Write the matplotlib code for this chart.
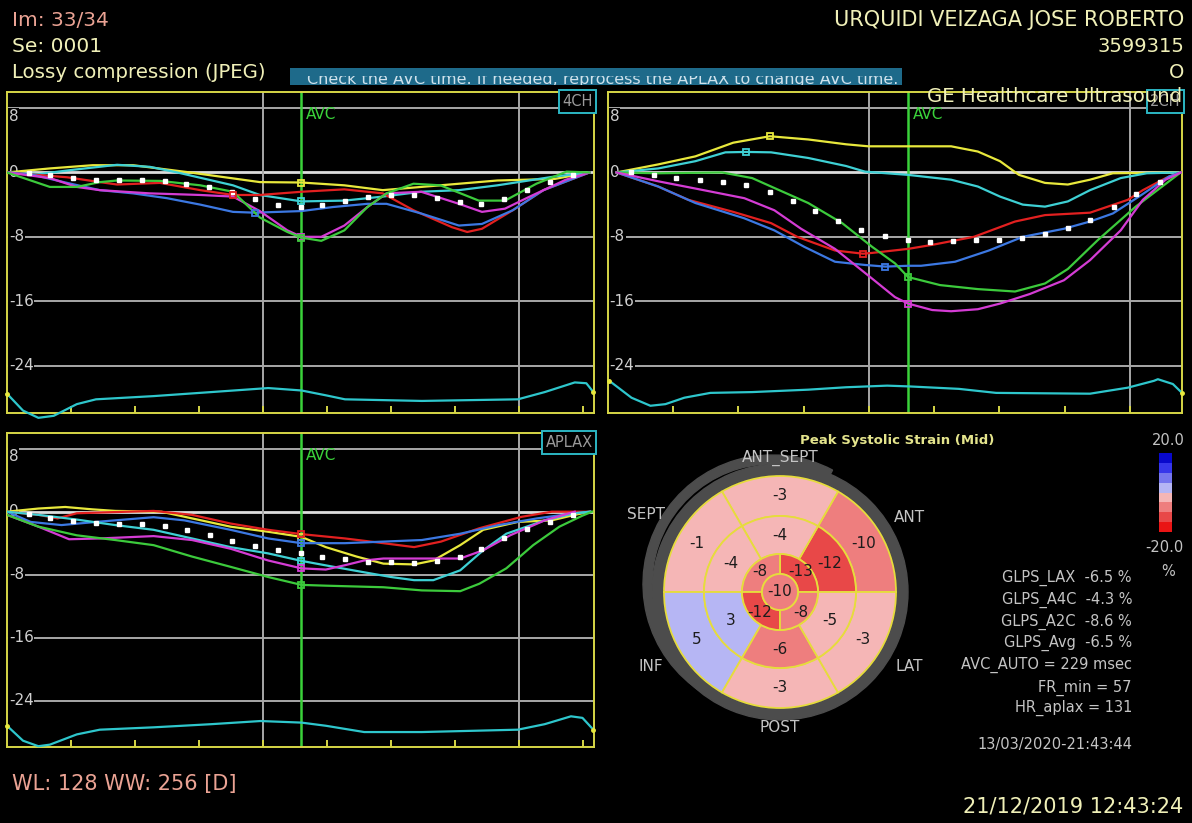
import numpy as np
import matplotlib
matplotlib.use("Agg")
import matplotlib.pyplot as plt
from matplotlib.patches import Wedge, Circle, Rectangle
from matplotlib.colors import ListedColormap, BoundaryNorm
from matplotlib.transforms import blended_transform_factory

plt.rcParams['font.family'] = ['DejaVu Sans']

W, H = 1192, 823

# ---------------- Apical 4-chamber: segmental longitudinal strain (%) vs frame ticks ----------------
a4c_yellow_t = [0.00, 0.67, 1.34, 1.97, 2.86, 3.95, 4.60, 5.27, 5.87, 6.47, 7.66, 8.56, 9.10]
a4c_yellow = [0.0, 0.5, 0.9, 0.9, 0.0, -1.2, -1.25, -1.6, -2.2, -1.8, -1.0, -0.8, 0.0]
a4c_cyan_t = [0.00, 0.50, 1.00, 1.72, 2.23, 2.66, 3.53, 3.95, 4.60, 5.27, 5.87, 6.47, 7.06, 7.66, 8.56, 9.10]
a4c_cyan = [0.0, -0.2, 0.3, 0.95, 0.7, 0.0, -1.6, -2.8, -3.6, -3.5, -3.0, -2.4, -2.2, -1.6, -0.5, 0.0]
a4c_red_t = [0.00, 0.94, 1.45, 1.72, 2.39, 3.02, 3.53, 3.95, 4.60, 5.27, 5.87, 6.35, 6.95, 7.19, 7.42, 7.90, 8.38, 9.10]
a4c_red = [0.0, -0.6, -1.2, -1.5, -1.3, -2.2, -2.8, -2.8, -2.4, -2.1, -2.6, -4.7, -6.8, -7.4, -7.0, -4.7, -2.2, 0.0]
a4c_blue_t = [0.00, 0.41, 0.94, 1.45, 1.97, 2.50, 3.02, 3.53, 3.87, 4.60, 5.09, 5.63, 5.93, 6.47, 7.06, 7.42, 7.90, 8.38, 9.10]
a4c_blue = [0.0, -0.3, -1.3, -2.2, -2.6, -3.2, -4.0, -4.9, -5.0, -4.8, -4.3, -3.9, -3.9, -5.1, -6.6, -6.4, -4.7, -2.2, 0.0]
a4c_magenta_t = [0.00, 0.67, 1.09, 1.45, 2.23, 3.02, 3.53, 3.95, 4.38, 4.60, 4.91, 5.27, 5.63, 5.93, 6.47, 7.06, 7.42, 7.78, 8.14, 8.73, 9.10]
a4c_magenta = [0.0, -0.7, -1.8, -2.2, -2.6, -2.8, -3.0, -4.8, -7.2, -8.0, -8.0, -6.6, -4.3, -2.6, -2.4, -3.9, -4.9, -4.5, -3.1, -0.9, 0.0]
a4c_green_t = [0.00, 0.67, 1.09, 1.45, 1.72, 2.39, 3.02, 3.53, 3.95, 4.38, 4.60, 4.91, 5.27, 5.63, 5.93, 6.35, 6.77, 7.37, 7.78, 8.27, 8.74, 9.10]
a4c_green = [0.0, -1.8, -1.8, -1.2, -1.0, -1.05, -1.6, -2.4, -5.6, -7.4, -8.1, -8.5, -7.2, -4.3, -2.6, -1.4, -1.6, -3.5, -3.5, -1.4, 0.1, 0.0]
a4c_avg_t = [0.34, 0.67, 1.03, 1.39, 1.75, 2.11, 2.47, 2.80, 3.16, 3.51, 3.87, 4.23, 4.60, 4.92, 5.28,
             5.64, 6.00, 6.36, 6.72, 7.08, 7.41, 7.77, 8.13, 8.49, 8.84]
a4c_avg = [-0.1, -0.3, -0.75, -0.9, -0.9, -0.9, -1.05, -1.4, -1.8, -2.4, -3.3, -4.0, -4.3, -4.1, -3.6,
           -3.05, -2.75, -2.75, -3.2, -3.7, -3.9, -3.25, -2.2, -1.2, -0.35]
a4c_ecg_t = [0.00, 0.25, 0.49, 0.73, 1.09, 1.39, 2.29, 3.19, 4.08, 4.60, 4.98, 5.28, 6.48, 7.98, 8.40, 8.87, 9.05, 9.16]
a4c_ecg = [-27.5, -29.6, -30.5, -30.25, -28.8, -28.2, -27.8, -27.3, -26.8, -27.1, -27.7, -28.2, -28.4, -28.2, -27.3, -26.1, -26.2, -27.3]

# ---------------- Apical 2-chamber ----------------
a2c_yellow_t = [0.13, 0.77, 1.34, 1.92, 2.48, 3.07, 3.65, 3.99, 4.60, 5.26, 5.67, 6.01, 6.30, 6.70, 7.05, 7.39, 7.74, 8.78]
a2c_yellow = [0.0, 1.0, 2.0, 3.7, 4.5, 4.1, 3.5, 3.25, 3.25, 3.25, 2.6, 1.4, -0.3, -1.3, -1.5, -0.9, -0.1, 0.0]
a2c_cyan_t = [0.13, 0.77, 1.34, 1.80, 2.12, 2.50, 3.07, 3.65, 3.94, 4.60, 5.26, 5.67, 6.01, 6.36, 6.70, 7.05, 7.39, 7.86, 8.26, 8.78]
a2c_cyan = [0.0, 0.5, 1.4, 2.5, 2.55, 2.5, 1.8, 0.8, 0.1, -0.3, -0.9, -1.75, -3.0, -4.0, -4.25, -3.6, -2.2, -0.7, -0.1, 0.0]
a2c_red_t = [0.13, 0.77, 1.23, 1.92, 2.50, 2.90, 3.48, 3.91, 4.05, 4.60, 4.97, 5.61, 6.24, 6.70, 7.39, 7.97, 8.20, 8.55, 8.78]
a2c_red = [0.0, -1.75, -3.4, -4.9, -6.3, -8.0, -9.7, -10.1, -10.0, -9.5, -9.0, -8.0, -6.1, -5.3, -5.0, -3.4, -2.2, -0.7, 0.0]
a2c_blue_t = [0.13, 0.77, 1.34, 2.09, 2.55, 3.01, 3.48, 3.94, 4.25, 4.60, 4.80, 5.32, 5.84, 6.36, 6.99, 7.39, 7.74, 8.14, 8.60, 8.78]
a2c_blue = [0.0, -1.75, -3.8, -5.7, -7.2, -9.25, -11.1, -11.5, -11.7, -11.6, -11.6, -11.1, -9.7, -8.0, -7.0, -6.1, -5.1, -3.0, -0.5, 0.0]
a2c_magenta_t = [0.13, 0.77, 1.34, 2.09, 2.55, 2.96, 3.48, 4.05, 4.40, 4.60, 4.97, 5.26, 5.67, 6.01, 6.47, 6.99, 7.39, 7.86, 8.20, 8.55, 8.78]
a2c_magenta = [0.0, -1.1, -2.0, -3.2, -4.7, -7.0, -9.5, -13.2, -15.5, -16.3, -17.1, -17.25, -17.0, -16.3, -15.1, -13.4, -10.9, -7.2, -3.4, -0.9, 0.0]
a2c_green_t = [0.13, 0.77, 1.75, 2.21, 2.50, 3.07, 3.59, 4.05, 4.40, 4.60, 5.09, 5.67, 6.24, 6.70, 7.05, 7.51, 8.09, 8.78]
a2c_green = [0.0, -0.1, 0.0, -0.7, -1.75, -3.8, -6.3, -9.25, -11.3, -13.0, -14.0, -14.5, -14.8, -13.8, -12.0, -8.4, -4.25, 0.0]
a2c_avg_t = [0.36, 0.71, 1.05, 1.41, 1.76, 2.12, 2.48, 2.83, 3.18, 3.53, 3.88, 4.24, 4.60, 4.93, 5.29,
             5.64, 6.00, 6.35, 6.70, 7.05, 7.39, 7.75, 8.10, 8.46]
a2c_avg = [0.0, -0.3, -0.7, -1.0, -1.15, -1.55, -2.45, -3.55, -4.8, -6.0, -7.1, -7.85, -8.35, -8.6, -8.5,
           -8.4, -8.4, -8.15, -7.7, -6.95, -5.9, -4.25, -2.65, -1.15]
a2c_ecg_t = [0.02, 0.36, 0.65, 0.88, 1.17, 1.57, 2.21, 3.07, 3.65, 4.28, 4.63, 5.38, 5.95, 7.39, 7.97, 8.37, 8.43, 8.66, 8.80]
a2c_ecg = [-25.9, -28.0, -29.0, -28.8, -28.0, -27.4, -27.3, -27.0, -26.7, -26.5, -26.6, -26.9, -27.4, -27.5, -26.75, -25.9, -25.7, -26.3, -27.4]

# ---------------- Apical long axis ----------------
lax_yellow_t = [0.00, 0.49, 0.91, 1.33, 1.69, 2.41, 2.89, 3.49, 4.08, 4.60, 4.98, 5.46, 5.88, 6.36, 6.66, 7.08, 7.44, 7.98, 8.51, 8.87, 9.11]
lax_yellow = [0.0, 0.4, 0.6, 0.3, 0.1, 0.0, -0.85, -1.9, -2.55, -3.2, -4.5, -5.7, -6.6, -6.7, -6.2, -4.25, -2.3, -1.3, -1.1, -0.4, 0.0]
lax_cyan_t = [0.00, 0.49, 1.09, 1.69, 2.29, 2.89, 3.49, 4.08, 4.60, 5.10, 5.58, 6.00, 6.36, 6.66, 7.08, 7.44, 7.80, 8.40, 8.87, 9.11]
lax_cyan = [0.0, -0.4, -1.0, -1.7, -2.3, -3.4, -4.5, -5.3, -6.25, -7.0, -7.7, -8.3, -8.7, -8.7, -7.45, -4.9, -2.8, -1.1, -0.2, 0.0]
lax_red_t = [0.00, 0.49, 0.79, 1.09, 2.29, 2.89, 3.49, 4.08, 4.60, 5.28, 5.88, 6.36, 6.78, 7.38, 8.04, 8.51, 9.11]
lax_red = [0.0, -0.4, -0.85, -0.2, 0.1, -0.4, -1.5, -2.3, -2.85, -3.4, -4.0, -4.5, -3.8, -2.1, -0.65, 0.0, 0.0]
lax_blue_t = [0.00, 0.37, 0.85, 1.39, 2.29, 2.77, 3.49, 4.08, 4.60, 5.28, 5.88, 6.48, 7.08, 7.68, 8.28, 8.87, 9.11]
lax_blue = [0.0, -1.3, -1.7, -1.3, -0.7, -1.1, -2.3, -3.4, -4.0, -4.0, -3.8, -3.6, -2.8, -1.7, -0.85, -0.2, 0.0]
lax_magenta_t = [0.00, 0.49, 0.97, 1.45, 2.29, 2.89, 3.49, 4.08, 4.60, 4.98, 5.28, 5.58, 5.88, 7.08, 7.44, 7.86, 8.40, 8.87]
lax_magenta = [-0.4, -1.9, -3.5, -3.4, -3.1, -3.6, -4.7, -6.2, -7.2, -7.35, -6.8, -6.2, -5.95, -5.95, -4.9, -3.0, -1.1, 0.0]
lax_green_t = [0.00, 0.49, 1.09, 1.69, 2.29, 2.89, 3.49, 4.08, 4.60, 4.98, 5.88, 6.48, 7.08, 7.38, 7.80, 8.22, 8.63, 8.99, 9.14]
lax_green = [-0.4, -1.9, -3.0, -3.6, -4.25, -5.7, -7.0, -8.3, -9.3, -9.4, -9.6, -10.0, -10.1, -9.15, -7.2, -4.25, -1.9, -0.5, 0.0]
lax_avg_t = [0.34, 0.67, 1.03, 1.39, 1.75, 2.11, 2.47, 2.81, 3.17, 3.51, 3.87, 4.23, 4.60, 4.92, 5.28,
             5.64, 6.00, 6.36, 6.72, 7.08, 7.41, 7.77, 8.13, 8.49, 8.84]
lax_avg = [-0.35, -0.85, -1.15, -1.4, -1.5, -1.5, -1.8, -2.35, -2.9, -3.75, -4.35, -4.9, -5.25, -5.75, -6.05,
           -6.4, -6.45, -6.5, -6.3, -5.75, -4.7, -3.4, -2.15, -1.3, -0.45]
lax_ecg_t = [0.00, 0.25, 0.49, 0.67, 1.09, 1.45, 2.29, 3.19, 3.96, 4.60, 4.98, 5.58, 6.48, 7.98, 8.40, 8.81, 8.99, 9.16]
lax_ecg = [-27.2, -29.1, -29.8, -29.6, -28.3, -27.7, -27.4, -27.0, -26.6, -26.8, -27.2, -28.0, -28.0, -27.7, -27.0, -26.0, -26.2, -27.7]

avc_time = 4.6
axis_ticks = [8, 0, -8, -16, -24]

# ---------------- Bull's eye: peak systolic strain per segment (%) ----------------
basal_angles = [30, 90, 150, 210, 270, 330]
basal_values = [-10, -3, -1, 5, -3, -3]
mid_values = [-12, -4, -4, 3, -6, -5]
apical_angles = [45, 135, 225, 315]
apical_values = [-13, -8, -12, -8]
apex_value = -10
wall_names = ['ANT', 'ANT_SEPT', 'SEPT', 'INF', 'POST', 'LAT']
wall_radii = [149, 134, 155, 149, 135, 149]

strain_levels = [-20, -15, -10, -5, 0, 5, 10, 15, 20]
strain_colors = ['#ea1414', '#e84848', '#ee7e7e', '#f5b6b6', '#b6b6f4', '#7676ee', '#3636ea', '#0808cc']

glps_names = ['GLPS_LAX', 'GLPS_A4C', 'GLPS_A2C', 'GLPS_Avg']
glps_values = [-6.5, -4.3, -8.6, -6.5]
avc_msec = 229
fr_min = 57
hr_aplax = 131

# ---------------- styling ----------------
FRAME = '#d6d646'
GRID = '#a8a8a8'
ZERO = '#dcdcdc'
AVC_GREEN = '#3ad23a'
LABEL = '#d0d0d0'
C_YEL = '#e8e83c'
C_CYAN = '#3ed0d4'
C_RED = '#e22020'
C_BLUE = '#3c78e2'
C_MAG = '#d43cd4'
C_GRN = '#3cca3c'
C_ECG = '#2ec6cc'
TXT_Y = '#f0f0b8'
TXT_SALMON = '#eba394'

fig = plt.figure(figsize=(W / 100, H / 100), dpi=100, facecolor='black')


def px_axes(x0, y0, x1, y1):
    return fig.add_axes([x0 / W, 1 - y1 / H, (x1 - x0) / W, (y1 - y0) / H])


def strain_panel(box, xmax, curves, avg_t, avg, ecg_t, ecg, tag):
    ax = px_axes(*box)
    ax.set_facecolor('black')
    ax.set_xlim(0, xmax)
    ax.set_ylim(-29.9, 10.0)
    for s in ax.spines.values():
        s.set_color(FRAME)
        s.set_linewidth(1.4)
    ax.set_xticks(np.arange(1, int(xmax) + 1))
    ax.set_yticks([])
    ax.tick_params(axis='x', direction='in', length=5, width=1.4, color=FRAME, labelbottom=False)
    for g in axis_ticks:
        if g == 0:
            ax.axhline(g, color=ZERO, lw=2.0, zorder=1)
        else:
            ax.axhline(g, color=GRID, lw=1.4, zorder=1)
    for g in (4, 8):
        ax.axvline(g, color=GRID, lw=1.4, zorder=1)
    ax.axvline(avc_time, color=AVC_GREEN, lw=1.8, zorder=2)
    tr = blended_transform_factory(ax.transAxes, ax.transData)
    for g in axis_ticks:
        yy = 7.0 if g == 8 else g
        ax.text(0.003, yy, f'{g}', transform=tr, ha='left', va='center', color=LABEL,
                fontsize=11, zorder=1.5,
                bbox=dict(facecolor='black', edgecolor='none', pad=0.6))
    ax.text(avc_time + 0.07, 7.2, 'AVC', color=AVC_GREEN, fontsize=11, ha='left', va='center', zorder=2)
    ax.text(0.998, 0.994, tag, transform=ax.transAxes, ha='right', va='top', color='#9a9a9a',
            fontsize=10.5, zorder=6,
            bbox=dict(facecolor='black', edgecolor='#2cb6c4', linewidth=1.4, boxstyle='square,pad=0.25'))
    for t, v, c in curves:
        t = np.asarray(t)
        v = np.asarray(v)
        ax.plot(t, v, color=c, lw=1.6, zorder=3, solid_joinstyle='round')
        sys_mask = t <= avc_time + 0.02
        k = int(np.argmax(np.abs(np.where(sys_mask, v, 0.0))))
        ax.plot(t[k], v[k], 's', ms=5, mfc='none', mec=c, mew=1.3, zorder=5)
    ax.plot(avg_t, avg, 's', color='white', ms=2.3, lw=0, zorder=4)
    ax.plot(ecg_t, ecg, color=C_ECG, lw=1.6, zorder=3, clip_on=False)
    ax.plot([ecg_t[0], ecg_t[-1]], [ecg[0], ecg[-1]], 'o', color=C_YEL, ms=2.5, zorder=4, clip_on=False)
    return ax


strain_panel((7, 92, 594, 413), 9.17,
             [(a4c_yellow_t, a4c_yellow, C_YEL), (a4c_cyan_t, a4c_cyan, C_CYAN),
              (a4c_red_t, a4c_red, C_RED), (a4c_blue_t, a4c_blue, C_BLUE),
              (a4c_magenta_t, a4c_magenta, C_MAG), (a4c_green_t, a4c_green, C_GRN)],
             a4c_avg_t, a4c_avg, a4c_ecg_t, a4c_ecg, '4CH')
strain_panel((608, 92, 1182, 413), 8.80,
             [(a2c_yellow_t, a2c_yellow, C_YEL), (a2c_cyan_t, a2c_cyan, C_CYAN),
              (a2c_red_t, a2c_red, C_RED), (a2c_blue_t, a2c_blue, C_BLUE),
              (a2c_green_t, a2c_green, C_GRN), (a2c_magenta_t, a2c_magenta, C_MAG)],
             a2c_avg_t, a2c_avg, a2c_ecg_t, a2c_ecg, '2CH')
strain_panel((7, 433, 594, 747), 9.17,
             [(lax_yellow_t, lax_yellow, C_YEL), (lax_red_t, lax_red, C_RED),
              (lax_blue_t, lax_blue, C_BLUE), (lax_cyan_t, lax_cyan, C_CYAN),
              (lax_magenta_t, lax_magenta, C_MAG), (lax_green_t, lax_green, C_GRN)],
             lax_avg_t, lax_avg, lax_ecg_t, lax_ecg, 'APLAX')

# ---------------- bull's eye ----------------
cmap = ListedColormap(strain_colors)
norm = BoundaryNorm(strain_levels, cmap.N)


def seg_color(v):
    # bin toward zero so that boundary values keep the milder colour
    i = np.searchsorted(strain_levels, v, side='left' if v > 0 else 'right') - 1
    return strain_colors[int(np.clip(i, 0, len(strain_colors) - 1))]


bx = px_axes(630, 442, 930, 742)
bx.set_xlim(-150, 150)
bx.set_ylim(-150, 150)
bx.set_aspect('equal')
bx.axis('off')
RING = '#4c4c4c'
bx.add_patch(Wedge((-8, 8), 129, 62, 238, width=9, color=RING, zorder=1))
bx.add_patch(Wedge((0, 0), 128, 0, 360, width=11, color=RING, zorder=1))
SEG_EDGE = '#e6dc3c'
R_BASE, R_MID, R_API, R_APEX = 116, 76, 38, 18
for a, v in zip(basal_angles, basal_values):
    bx.add_patch(Wedge((0, 0), R_BASE, a - 30, a + 30, width=R_BASE - R_MID, facecolor=seg_color(v),
                       edgecolor=SEG_EDGE, lw=1.3, zorder=2))
for a, v in zip(basal_angles, mid_values):
    bx.add_patch(Wedge((0, 0), R_MID, a - 30, a + 30, width=R_MID - R_API, facecolor=seg_color(v),
                       edgecolor=SEG_EDGE, lw=1.3, zorder=2))
for a, v in zip(apical_angles, apical_values):
    bx.add_patch(Wedge((0, 0), R_API, a - 45, a + 45, width=R_API - R_APEX, facecolor=seg_color(v),
                       edgecolor=SEG_EDGE, lw=1.3, zorder=2))
bx.add_patch(Circle((0, 0), R_APEX, facecolor=seg_color(apex_value), edgecolor=SEG_EDGE, lw=1.3, zorder=2))

VAL_C = '#1c1c1c'
for a, v in zip(basal_angles, basal_values):
    r = 96
    bx.text(r * np.cos(np.radians(a)), r * np.sin(np.radians(a)), f'{v}', ha='center', va='center',
            color=VAL_C, fontsize=11, zorder=3)
for a, v in zip(basal_angles, mid_values):
    r = 57
    bx.text(r * np.cos(np.radians(a)), r * np.sin(np.radians(a)), f'{v}', ha='center', va='center',
            color=VAL_C, fontsize=11, zorder=3)
for a, v in zip(apical_angles, apical_values):
    r = 29
    bx.text(r * np.cos(np.radians(a)), r * np.sin(np.radians(a)), f'{v}', ha='center', va='center',
            color=VAL_C, fontsize=11, zorder=3)
bx.text(0, 0, f'{apex_value}', ha='center', va='center', color=VAL_C, fontsize=11, zorder=3)
for a, name, r in zip(basal_angles, wall_names, wall_radii):
    bx.text(r * np.cos(np.radians(a)), r * np.sin(np.radians(a)), name, ha='center', va='center',
            color='#c4c4c4', fontsize=11, zorder=4)

# colour scale
cb = px_axes(1159, 453, 1172, 532)
cb.pcolormesh([0, 1], strain_levels, np.array(strain_levels[:-1])[:, None] + 2.5, cmap=cmap, norm=norm)
cb.set_xlim(0, 1)
cb.set_ylim(-20, 20)
cb.axis('off')

# ---------------- text overlay ----------------
ov = fig.add_axes([0, 0, 1, 1])
ov.set_xlim(0, W)
ov.set_ylim(H, 0)
ov.axis('off')
ov.set_zorder(10)
ov.patch.set_visible(False)

ov.text(12, 20, 'Im: 33/34', color=TXT_SALMON, fontsize=14.5, va='center', ha='left')
ov.text(12, 46, 'Se: 0001', color=TXT_Y, fontsize=14.5, va='center', ha='left')
ov.text(12, 72, 'Lossy compression (JPEG)', color=TXT_Y, fontsize=14.2, va='center', ha='left')
ov.text(1184, 20, 'URQUIDI VEIZAGA JOSE ROBERTO', color=TXT_Y, fontsize=15, va='center', ha='right')
ov.text(1184, 46, '3599315', color=TXT_Y, fontsize=14, va='center', ha='right')
ov.text(1184, 72, 'O', color=TXT_Y, fontsize=14, va='center', ha='right')
ov.text(1182, 96, 'GE Healthcare Ultrasound', color=TXT_Y, fontsize=14.2, va='center', ha='right')

banner = Rectangle((290, 68), 612, 17, facecolor='#1e6a8a', edgecolor='none')
ov.add_patch(banner)
# the message's upper part is hidden, only the lower band of the line shows
msg_clip = Rectangle((290, 76.0), 612, 9.0, transform=ov.transData)
msg = ov.text(307, 84, 'Check the AVC time. If needed, reprocess the APLAX to change AVC time.',
              color='#cfe2ec', fontsize=11.5, va='baseline', ha='left', clip_on=True)
msg.set_clip_path(msg_clip)

ov.text(897, 440, 'Peak Systolic Strain (Mid)', color='#e4e48c', fontsize=9.5, fontweight='bold',
        va='center', ha='center')
ov.text(1168, 440, f'{strain_levels[-1]:.1f}', color='#c4c4c4', fontsize=10.5, va='center', ha='center')
ov.text(1164, 547, f'{strain_levels[0]:.1f}', color='#c4c4c4', fontsize=10.5, va='center', ha='center')
ov.text(1168, 571, '%', color='#c4c4c4', fontsize=10.5, va='center', ha='center')

info_lines = [f'{n}  {v:.1f} %' for n, v in zip(glps_names, glps_values)]
info_lines += [f'AVC_AUTO = {avc_msec} msec', f'FR_min = {fr_min}', f'HR_aplax = {hr_aplax}']
info_y = [578, 600, 622, 643, 665, 688, 708]
for y, s in zip(info_y, info_lines):
    ov.text(1132, y, s, color='#c4c4c4', fontsize=10.5, va='center', ha='right')
ov.text(1132, 744, '13/03/2020-21:43:44', color='#c4c4c4', fontsize=10.5, va='center', ha='right')

ov.text(12, 784, 'WL: 128 WW: 256 [D]', color=TXT_SALMON, fontsize=15, va='center', ha='left')
ov.text(1183, 806, '21/12/2019 12:43:24', color=TXT_Y, fontsize=15, va='center', ha='right')

fig.savefig('out.png', dpi=100, facecolor='black')
